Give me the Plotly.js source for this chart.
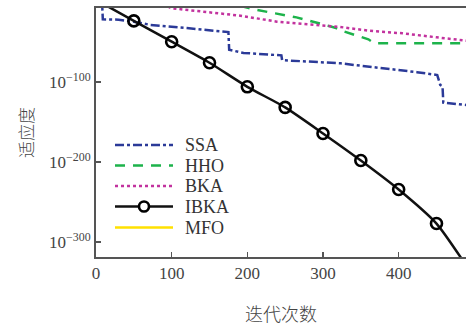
<!DOCTYPE html>
<html><head><meta charset="utf-8">
<script src="https://cdn.plot.ly/plotly-3.0.1.min.js"></script>
<style>html,body{margin:0;padding:0;overflow:hidden;background:#fff}</style>
</head><body><div id="chart" style="width:466px;height:327px"></div>
<script>
// iterations and log10(fitness)
const ssaIter = [0, 8, 9, 30, 50, 72, 120, 164, 175, 176, 195, 245, 246, 323, 362, 391, 424, 451, 455, 458, 459, 490];
const ssaLogFit = [0, 0, -22, -22.5, -25, -29, -33, -37.5, -38, -60, -64, -67, -73, -77, -81, -84, -88, -91.6, -104, -106, -126, -129];
const hhoIter = [0, 190, 202, 208, 237, 265, 292, 316, 322, 346, 360, 368, 490];
const hhoLogFit = [0, -5, -8, -9.5, -14.6, -19.6, -26.3, -32.5, -35.4, -42.9, -47, -52, -52];
const bkaIter = [0, 95, 100, 151, 191, 239, 283, 320, 361, 405, 450, 490];
const bkaLogFit = [0, -6, -8.25, -13.75, -17.5, -25, -27.9, -31.25, -36.25, -39.5, -44.5, -48.75];
const ibkaIter = [10, 50, 100, 150, 200, 250, 300, 350, 400, 450, 484];
const ibkaLogFit = [-3, -24, -50, -76.3, -106.3, -132, -164.5, -198.3, -234.5, -277, -322];
const mfoIter = [0, 100, 200, 300, 400, 490];
const mfoLogFit = [3, 1, 0, -1, -2, -3];
const seriesNames = ['SSA', 'HHO', 'BKA', 'IBKA', 'MFO'];
const xTicks = [0, 100, 200, 300, 400];
const yTickExp = [-100, -200, -300];

const toVal = a => a.map(e => Math.pow(10, e));
const serif = 'Liberation Serif, Times New Roman, serif';
const cjk = 'Noto Sans CJK SC, sans-serif';

const styles = [
  {color: '#2b3a98', width: 2.5, dash: '9px,3px,3px,3px'},
  {color: '#1db34b', width: 2.5, dash: '10px,8px'},
  {color: '#c2329e', width: 2.5, dash: 'dot'},
  {color: '#111111', width: 2.5},
  {color: '#ffe100', width: 2.5}
];

const ibkaMarkerSize = ibkaIter.map((v, i) => (i === 0 || i === ibkaIter.length - 1) ? 0 : 11);

const traces = [
  {x: ssaIter, y: toVal(ssaLogFit), name: seriesNames[0], mode: 'lines', line: styles[0]},
  {x: hhoIter, y: toVal(hhoLogFit), name: seriesNames[1], mode: 'lines', line: styles[1]},
  {x: bkaIter, y: toVal(bkaLogFit), name: seriesNames[2], mode: 'lines', line: styles[2]},
  {x: ibkaIter, y: toVal(ibkaLogFit), name: seriesNames[3], mode: 'lines+markers',
   line: Object.assign({shape: 'spline', smoothing: 0.6}, styles[3]),
   marker: {symbol: 'circle-open', size: ibkaMarkerSize, color: '#000000', opacity: 1,
            line: {width: 2.6, color: '#000000'}}},
  {x: mfoIter, y: toVal(mfoLogFit), name: seriesNames[4], mode: 'lines', line: styles[4]}
];

// manual legend (plot area: left 96px, width 370px, top 8px, height 249px)
const L = 96, W = 370, B = 257, H = 249;
const px = v => (v - L) / W, py = v => (B - v) / H;
const rowY = [145, 165.5, 186, 206.5, 227.5];
const shapes = [], annotations = [];
seriesNames.forEach((n, i) => {
  shapes.push({type: 'line', xref: 'paper', yref: 'paper', x0: px(115), x1: px(173),
    y0: py(rowY[i]), y1: py(rowY[i]), line: styles[i]});
  annotations.push({xref: 'paper', yref: 'paper', x: px(183), y: py(rowY[i]), xanchor: 'left', yanchor: 'middle',
    text: n, showarrow: false, font: {family: serif, size: 18, color: '#333'}});
});
shapes.push({type: 'circle', xref: 'paper', yref: 'paper', xsizemode: 'pixel', ysizemode: 'pixel',
  xanchor: px(144), yanchor: py(rowY[3]), x0: -5, x1: 5, y0: -5, y1: 5,
  fillcolor: '#fff', line: {color: '#000000', width: 2.6}});

const layout = {
  width: 466, height: 327,
  margin: {l: 96, r: 0, t: 8, b: 70},
  paper_bgcolor: '#fff', plot_bgcolor: '#fff',
  showlegend: false,
  shapes: shapes, annotations: annotations,
  xaxis: {range: [0, 489], tickvals: xTicks, ticktext: xTicks.map(String),
    ticks: 'inside', ticklen: 5, tickwidth: 1.5, tickcolor: '#555',
    showline: true, linecolor: '#555', linewidth: 2, mirror: true,
    showgrid: false, zeroline: false,
    tickfont: {family: serif, size: 17, color: '#444'},
    title: {text: '迭代次数', font: {family: cjk, size: 18, color: '#444', weight: 300}, standoff: 26}},
  yaxis: {type: 'log', range: [-318.75, -7.9],
    tickvals: toVal(yTickExp), ticktext: yTickExp.map(e => '10<sup>\u2212' + (-e) + '</sup>'),
    ticks: 'inside', ticklen: 5, tickwidth: 1.5, tickcolor: '#555',
    showline: true, linecolor: '#555', linewidth: 2, mirror: false,
    showgrid: false, zeroline: false,
    tickfont: {family: serif, size: 17, color: '#444'},
    title: {text: '适应度', font: {family: cjk, size: 17, color: '#444', weight: 300}, standoff: 11}}
};

Plotly.newPlot('chart', traces, layout, {displayModeBar: false, staticPlot: true});
</script></body></html>
